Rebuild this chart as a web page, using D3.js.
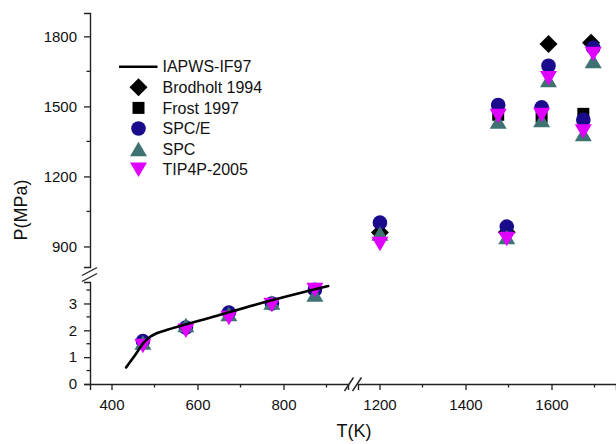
<!DOCTYPE html>
<html>
<head>
<meta charset="utf-8">
<script src="https://cdn.jsdelivr.net/npm/d3@7"></script>
<style>
  html, body { margin: 0; padding: 0; background: #fff; }
  svg { display: block; font-family: "Liberation Sans", Arial, sans-serif; }
</style>
</head>
<body>
<svg id="chart" width="616" height="444"></svg>
<script>
// ---- Data -------------------------------------------------------------
// IAPWS-IF97 reference curve (T in K, P in MPa), low-temperature branch
const iapwsT = [434, 455, 474, 490, 505, 528, 629, 745, 904];
const iapwsP = [0.62, 1.08, 1.52, 1.76, 1.89, 2.01, 2.47, 3.0, 3.65];

// Simulated pressures at low temperature (MPa)
const lowT = [473, 573, 673, 773, 873];
const spceLowP = [1.60, 2.10, 2.66, 3.00, 3.51];
const spcLowP = [1.55, 2.20, 2.61, 3.04, 3.33];
const tip4pLowP = [1.42, 1.98, 2.46, 2.94, 3.50];

// High-temperature data (MPa)
const brodholtT = [1201, 1496, 1593, 1692];
const brodholtP = [960, 961, 1767, 1773];
const frostT = [1476, 1577, 1674];
const frostP = [1464, 1456, 1468];
const highT = [1201, 1476, 1496, 1577, 1593, 1674, 1697];
const spceHighP = [1002, 1506, 985, 1496, 1674, 1442, 1751];
const spcHighP = [955, 1435, 940, 1442, 1613, 1382, 1694];
const tip4pHighP = [910, 1459, 932, 1463, 1620, 1392, 1724];

// Tick values
const xTicksLow = [400, 600, 800];
const xMinorLow = [500, 700, 900];
const xTicksHigh = [1200, 1400, 1600];
const xMinorHigh = [1300, 1500, 1700];
const yTicksLow = [0, 1, 2, 3];
const yMinorLow = [0.5, 1.5, 2.5, 3.5];
const yTicksHigh = [900, 1200, 1500, 1800];
const yMinorHigh = [1050, 1350, 1650];

const legendNames = ["IAPWS-IF97", "Brodholt 1994", "Frost 1997", "SPC/E", "SPC", "TIP4P-2005"];

// ---- Styles -----------------------------------------------------------
const colors = {
  brodholt: "#000000",
  frost: "#000000",
  spce: "#1a0a8c",
  spc: "#3f7373",
  tip4p: "#e000ff"
};

const svg = d3.select("#chart");
const fmt = d3.format("d");

// ---- Scales (broken axes) ----------------------------------------------
const xLow = d3.scaleLinear().domain([350, 950]).range([90, 348]);
const xHigh = d3.scaleLinear().domain([1150, 1750]).range([358, 616]);
const yLow = d3.scaleLinear().domain([0, 3.8]).range([384, 282]);
const yHigh = d3.scaleLinear().domain([812, 1900]).range([267, 13]);

const axisColor = "#222";

// ---- Marker shapes ----------------------------------------------------
const shapes = {
  diamond: (r = 9) => `M0,${-r}L${r},0L0,${r}L${-r},0Z`,
  square: (s = 12) => `M${-s/2},${-s/2}h${s}v${s}h${-s}Z`,
  circle: (r = 7.3) => `M${r},0A${r},${r},0,1,1,${-r},0A${r},${r},0,1,1,${r},0Z`,
  up: (w = 17, h = 14.5) => `M0,${-h/2}L${w/2},${h/2}L${-w/2},${h/2}Z`,
  down: (w = 17, h = 14.5) => `M0,${h/2}L${w/2},${-h/2}L${-w/2},${-h/2}Z`
};

function drawMarkers(g, xs, ys, xScale, yScale, shape, color) {
  const pts = xs.map((t, i) => [t, ys[i]]);
  g.selectAll(null)
    .data(pts)
    .join("path")
    .attr("d", shapes[shape]())
    .attr("transform", d => `translate(${xScale(d[0])},${yScale(d[1])})`)
    .attr("fill", color);
}

// ---- Axes -------------------------------------------------------------
function styleAxis(g) {
  g.selectAll("path.domain").attr("stroke", axisColor).attr("stroke-width", 1.4);
  g.selectAll("line").attr("stroke", axisColor).attr("stroke-width", 1.3);
  g.selectAll(".tick text")
    .attr("fill", "#111")
    .style("font-size", "15px")
    .style("font-family", "'Liberation Sans', Arial, sans-serif");
}

function bottomAxis(scale, major, minor) {
  const g = svg.append("g").attr("transform", "translate(0,384)")
    .call(d3.axisBottom(scale).tickValues(major).tickFormat(fmt)
      .tickSizeOuter(0).tickSize(6).tickPadding(9));
  g.append("g").selectAll("line").data(minor).join("line")
    .attr("x1", d => scale(d)).attr("x2", d => scale(d)).attr("y1", 0).attr("y2", 3.5);
  styleAxis(g);
}

function leftAxis(scale, major, minor) {
  const g = svg.append("g").attr("transform", "translate(90,0)")
    .call(d3.axisLeft(scale).tickValues(major).tickFormat(fmt)
      .tickSizeOuter(0).tickSize(6).tickPadding(7));
  g.append("g").selectAll("line").data(minor).join("line")
    .attr("y1", d => scale(d)).attr("y2", d => scale(d)).attr("x1", 0).attr("x2", -3.5);
  styleAxis(g);
}

bottomAxis(xLow, xTicksLow, xMinorLow);
bottomAxis(xHigh, xTicksHigh, xMinorHigh);
leftAxis(yLow, yTicksLow, yMinorLow);
leftAxis(yHigh, yTicksHigh, yMinorHigh);

// break marks "//" on each axis
const breaks = svg.append("g").attr("stroke", axisColor).attr("stroke-width", 1.4).attr("fill", "none");
const xb = (xLow.range()[1] + xHigh.range()[0]) / 2;
[-4, 4].forEach(dx => {
  breaks.append("line")
    .attr("x1", xb + dx - 4.5).attr("y1", 391)
    .attr("x2", xb + dx + 4.5).attr("y2", 377.5);
});
const yb = (yHigh.range()[0] + yLow.range()[1]) / 2;
[-3, 3].forEach(dy => {
  breaks.append("line")
    .attr("x1", 82).attr("y1", yb + dy + 4)
    .attr("x2", 97).attr("y2", yb + dy - 4);
});

// axis titles
svg.append("text")
  .attr("x", 354).attr("y", 437)
  .attr("text-anchor", "middle")
  .style("font-size", "18px")
  .attr("fill", "#111")
  .text("T(K)");

svg.append("text")
  .attr("transform", "translate(27,210) rotate(-90)")
  .attr("text-anchor", "middle")
  .style("font-size", "18px")
  .attr("fill", "#111")
  .text("P(MPa)");

// ---- Marks -------------------------------------------------------------
const marks = svg.append("g");

// high-temperature panel
drawMarkers(marks, brodholtT, brodholtP, xHigh, yHigh, "diamond", colors.brodholt);
drawMarkers(marks, frostT, frostP, xHigh, yHigh, "square", colors.frost);
drawMarkers(marks, highT, spceHighP, xHigh, yHigh, "circle", colors.spce);
drawMarkers(marks, highT, spcHighP, xHigh, yHigh, "up", colors.spc);
drawMarkers(marks, highT, tip4pHighP, xHigh, yHigh, "down", colors.tip4p);

// low-temperature panel
drawMarkers(marks, lowT, spceLowP, xLow, yLow, "circle", colors.spce);
drawMarkers(marks, lowT, spcLowP, xLow, yLow, "up", colors.spc);
drawMarkers(marks, lowT, tip4pLowP, xLow, yLow, "down", colors.tip4p);

// IAPWS-IF97 curve
const iapws = iapwsT.map((t, i) => [t, iapwsP[i]]);
marks.append("path")
  .datum(iapws)
  .attr("fill", "none")
  .attr("stroke", "#000")
  .attr("stroke-width", 2.6)
  .attr("stroke-linecap", "round")
  .attr("d", d3.line().x(d => xLow(d[0])).y(d => yLow(d[1])).curve(d3.curveMonotoneX));

// ---- Legend -----------------------------------------------------------
const legend = svg.append("g").attr("transform", "translate(138.5,66.7)");
const rowGap = 20.6;
const legendShapes = [null, "diamond", "square", "circle", "up", "down"];
const legendColors = ["#000", colors.brodholt, colors.frost, colors.spce, colors.spc, colors.tip4p];

legendNames.forEach((name, i) => {
  const row = legend.append("g").attr("transform", `translate(0,${i * rowGap})`);
  if (legendShapes[i] === null) {
    row.append("line")
      .attr("x1", -19.5).attr("x2", 19)
      .attr("stroke", "#000").attr("stroke-width", 2.6);
  } else {
    row.append("path")
      .attr("d", shapes[legendShapes[i]]())
      .attr("fill", legendColors[i]);
  }
  row.append("text")
    .attr("x", 24)
    .attr("dy", "0.36em")
    .style("font-size", "16px")
    .attr("fill", "#111")
    .text(name);
});
</script>
</body>
</html>
